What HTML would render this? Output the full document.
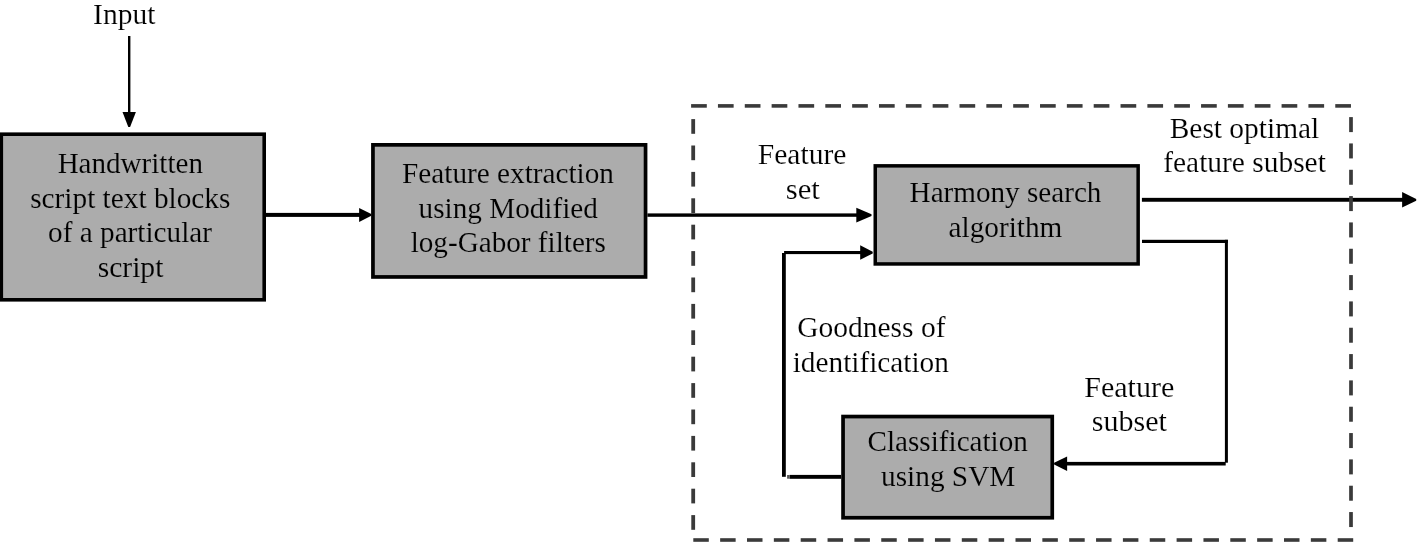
<!DOCTYPE html>
<html><head><meta charset="utf-8"><title>Diagram</title>
<style>
html,body{margin:0;padding:0;background:#fff;}
body{width:1418px;height:542px;overflow:hidden;}
svg{display:block;will-change:transform;font-family:"Liberation Serif",serif;}
text{fill:#000;}
</style></head><body>
<svg width="1418" height="542" viewBox="0 0 1418 542">
<rect x="0" y="0" width="1418" height="542" fill="#fff"/>
<rect x="1.3" y="134.2" width="262.9" height="165.6" fill="#acacac" stroke="#000" stroke-width="3.6"/>
<rect x="372.95" y="144.85" width="272.6" height="132.1" fill="#acacac" stroke="#000" stroke-width="3.7"/>
<rect x="875.25" y="165.85" width="262.9" height="98.1" fill="#acacac" stroke="#000" stroke-width="3.5"/>
<rect x="843.05" y="416.55" width="209.2" height="101.2" fill="#acacac" stroke="#000" stroke-width="3.7"/>
<rect x="266" y="212.9" width="96" height="4"/>
<rect x="647.4" y="213.4" width="210.6" height="3.4"/>
<rect x="1141.9" y="197.85" width="262.1" height="3.9"/>
<rect x="1142" y="239.8" width="85.9" height="3.2"/>
<rect x="1064" y="461.9" width="161.7" height="3.6"/>
<rect x="789.5" y="474.9" width="51.7" height="3.9"/>
<rect x="784.1" y="251" width="77.9" height="3.1"/>
<rect x="787.1" y="475" width="2.4" height="3.7" fill="#555"/>
<rect x="128" y="36" width="2.4" height="79"/>
<rect x="1224.9" y="239.8" width="3" height="222.9"/>
<rect x="782" y="253" width="3.8" height="223.8"/>
<polygon points="128.3,126.9 130.1,126.9 135.9,112 122.5,112"/>
<polygon points="371.3,214 371.3,215.8 359.1,221.9 359.1,207.9"/>
<polygon points="871.5,214.2 871.5,216 856.3,222.4 856.3,207.8"/>
<polygon points="1416.2,198.9 1416.2,200.7 1402.1,207.5 1402.1,192.1"/>
<polygon points="1054.1,462.8 1054.1,464.6 1067.1,470.9 1067.1,456.5"/>
<polygon points="872.7,251.65 872.7,253.45 860.2,259.75 860.2,245.35"/>
<rect x="691.1" y="104.1" width="15.7" height="3.6" fill="#3a3a3a"/>
<rect x="717.94" y="104.1" width="15.7" height="3.6" fill="#3a3a3a"/>
<rect x="744.78" y="104.1" width="15.7" height="3.6" fill="#3a3a3a"/>
<rect x="771.62" y="104.1" width="15.7" height="3.6" fill="#3a3a3a"/>
<rect x="798.46" y="104.1" width="15.7" height="3.6" fill="#3a3a3a"/>
<rect x="825.3" y="104.1" width="15.7" height="3.6" fill="#3a3a3a"/>
<rect x="852.14" y="104.1" width="15.7" height="3.6" fill="#3a3a3a"/>
<rect x="878.98" y="104.1" width="15.7" height="3.6" fill="#3a3a3a"/>
<rect x="905.82" y="104.1" width="15.7" height="3.6" fill="#3a3a3a"/>
<rect x="932.66" y="104.1" width="15.7" height="3.6" fill="#3a3a3a"/>
<rect x="959.5" y="104.1" width="15.7" height="3.6" fill="#3a3a3a"/>
<rect x="986.34" y="104.1" width="15.7" height="3.6" fill="#3a3a3a"/>
<rect x="1013.18" y="104.1" width="15.7" height="3.6" fill="#3a3a3a"/>
<rect x="1040.02" y="104.1" width="15.7" height="3.6" fill="#3a3a3a"/>
<rect x="1066.86" y="104.1" width="15.7" height="3.6" fill="#3a3a3a"/>
<rect x="1093.7" y="104.1" width="15.7" height="3.6" fill="#3a3a3a"/>
<rect x="1120.54" y="104.1" width="15.7" height="3.6" fill="#3a3a3a"/>
<rect x="1147.38" y="104.1" width="15.7" height="3.6" fill="#3a3a3a"/>
<rect x="1174.22" y="104.1" width="15.7" height="3.6" fill="#3a3a3a"/>
<rect x="1201.06" y="104.1" width="15.7" height="3.6" fill="#3a3a3a"/>
<rect x="1227.9" y="104.1" width="15.7" height="3.6" fill="#3a3a3a"/>
<rect x="1254.74" y="104.1" width="15.7" height="3.6" fill="#3a3a3a"/>
<rect x="1281.58" y="104.1" width="15.7" height="3.6" fill="#3a3a3a"/>
<rect x="1308.42" y="104.1" width="15.7" height="3.6" fill="#3a3a3a"/>
<rect x="1335.26" y="104.1" width="15.7" height="3.6" fill="#3a3a3a"/>
<rect x="693.3" y="538.2" width="15.5" height="3.6" fill="#3a3a3a"/>
<rect x="720.15" y="538.2" width="15.5" height="3.6" fill="#3a3a3a"/>
<rect x="747" y="538.2" width="15.5" height="3.6" fill="#3a3a3a"/>
<rect x="773.85" y="538.2" width="15.5" height="3.6" fill="#3a3a3a"/>
<rect x="800.7" y="538.2" width="15.5" height="3.6" fill="#3a3a3a"/>
<rect x="827.55" y="538.2" width="15.5" height="3.6" fill="#3a3a3a"/>
<rect x="854.4" y="538.2" width="15.5" height="3.6" fill="#3a3a3a"/>
<rect x="881.25" y="538.2" width="15.5" height="3.6" fill="#3a3a3a"/>
<rect x="908.1" y="538.2" width="15.5" height="3.6" fill="#3a3a3a"/>
<rect x="934.95" y="538.2" width="15.5" height="3.6" fill="#3a3a3a"/>
<rect x="961.8" y="538.2" width="15.5" height="3.6" fill="#3a3a3a"/>
<rect x="988.65" y="538.2" width="15.5" height="3.6" fill="#3a3a3a"/>
<rect x="1015.5" y="538.2" width="15.5" height="3.6" fill="#3a3a3a"/>
<rect x="1042.35" y="538.2" width="15.5" height="3.6" fill="#3a3a3a"/>
<rect x="1069.2" y="538.2" width="15.5" height="3.6" fill="#3a3a3a"/>
<rect x="1096.05" y="538.2" width="15.5" height="3.6" fill="#3a3a3a"/>
<rect x="1122.9" y="538.2" width="15.5" height="3.6" fill="#3a3a3a"/>
<rect x="1149.75" y="538.2" width="15.5" height="3.6" fill="#3a3a3a"/>
<rect x="1176.6" y="538.2" width="15.5" height="3.6" fill="#3a3a3a"/>
<rect x="1203.45" y="538.2" width="15.5" height="3.6" fill="#3a3a3a"/>
<rect x="1230.3" y="538.2" width="15.5" height="3.6" fill="#3a3a3a"/>
<rect x="1257.15" y="538.2" width="15.5" height="3.6" fill="#3a3a3a"/>
<rect x="1284" y="538.2" width="15.5" height="3.6" fill="#3a3a3a"/>
<rect x="1310.85" y="538.2" width="15.5" height="3.6" fill="#3a3a3a"/>
<rect x="1337.7" y="538.2" width="15.5" height="3.6" fill="#3a3a3a"/>
<rect x="691.3" y="119.1" width="3.8" height="14.7" fill="#3a3a3a"/>
<rect x="691.3" y="145.5" width="3.8" height="14.7" fill="#3a3a3a"/>
<rect x="691.3" y="171.9" width="3.8" height="14.7" fill="#3a3a3a"/>
<rect x="691.3" y="198.3" width="3.8" height="14.7" fill="#3a3a3a"/>
<rect x="691.3" y="224.7" width="3.8" height="14.7" fill="#3a3a3a"/>
<rect x="691.3" y="251.1" width="3.8" height="14.7" fill="#3a3a3a"/>
<rect x="691.3" y="277.5" width="3.8" height="14.7" fill="#3a3a3a"/>
<rect x="691.3" y="303.9" width="3.8" height="14.7" fill="#3a3a3a"/>
<rect x="691.3" y="330.3" width="3.8" height="14.7" fill="#3a3a3a"/>
<rect x="691.3" y="356.7" width="3.8" height="14.7" fill="#3a3a3a"/>
<rect x="691.3" y="383.1" width="3.8" height="14.7" fill="#3a3a3a"/>
<rect x="691.3" y="409.5" width="3.8" height="14.7" fill="#3a3a3a"/>
<rect x="691.3" y="435.9" width="3.8" height="14.7" fill="#3a3a3a"/>
<rect x="691.3" y="462.3" width="3.8" height="14.7" fill="#3a3a3a"/>
<rect x="691.3" y="488.7" width="3.8" height="14.7" fill="#3a3a3a"/>
<rect x="691.3" y="515.1" width="3.8" height="14.7" fill="#3a3a3a"/>
<rect x="1349.15" y="117.1" width="3.7" height="15" fill="#3a3a3a"/>
<rect x="1349.15" y="143.43" width="3.7" height="15" fill="#3a3a3a"/>
<rect x="1349.15" y="169.76" width="3.7" height="15" fill="#3a3a3a"/>
<rect x="1349.15" y="196.09" width="3.7" height="15" fill="#3a3a3a"/>
<rect x="1349.15" y="222.42" width="3.7" height="15" fill="#3a3a3a"/>
<rect x="1349.15" y="248.75" width="3.7" height="15" fill="#3a3a3a"/>
<rect x="1349.15" y="275.08" width="3.7" height="15" fill="#3a3a3a"/>
<rect x="1349.15" y="301.41" width="3.7" height="15" fill="#3a3a3a"/>
<rect x="1349.15" y="327.74" width="3.7" height="15" fill="#3a3a3a"/>
<rect x="1349.15" y="354.07" width="3.7" height="15" fill="#3a3a3a"/>
<rect x="1349.15" y="380.4" width="3.7" height="15" fill="#3a3a3a"/>
<rect x="1349.15" y="406.73" width="3.7" height="15" fill="#3a3a3a"/>
<rect x="1349.15" y="433.06" width="3.7" height="15" fill="#3a3a3a"/>
<rect x="1349.15" y="459.39" width="3.7" height="15" fill="#3a3a3a"/>
<rect x="1349.15" y="485.72" width="3.7" height="15" fill="#3a3a3a"/>
<rect x="1349.15" y="512.05" width="3.7" height="15" fill="#3a3a3a"/>
<text x="124.26" y="23.8" text-anchor="middle" font-size="30" textLength="62.28" lengthAdjust="spacingAndGlyphs" stroke="#fff" stroke-width="0.15">Input</text>
<text x="130.31" y="172.7" text-anchor="middle" font-size="30" textLength="145.34" lengthAdjust="spacingAndGlyphs" stroke="#acacac" stroke-width="0.15">Handwritten</text>
<text x="130.3" y="207.8" text-anchor="middle" font-size="30" textLength="200.24" lengthAdjust="spacingAndGlyphs" stroke="#acacac" stroke-width="0.15">script text blocks</text>
<text x="130.04" y="242.4" text-anchor="middle" font-size="30" textLength="163.88" lengthAdjust="spacingAndGlyphs" stroke="#acacac" stroke-width="0.15">of a particular</text>
<text x="130.52" y="277" text-anchor="middle" font-size="30" textLength="65.76" lengthAdjust="spacingAndGlyphs" stroke="#acacac" stroke-width="0.15">script</text>
<text x="508" y="182.8" text-anchor="middle" font-size="30" textLength="211.84" lengthAdjust="spacingAndGlyphs" stroke="#acacac" stroke-width="0.15">Feature extraction</text>
<text x="508.25" y="217.5" text-anchor="middle" font-size="30" textLength="179.26" lengthAdjust="spacingAndGlyphs" stroke="#acacac" stroke-width="0.15">using Modified</text>
<text x="508.29" y="252.3" text-anchor="middle" font-size="30" textLength="195.3" lengthAdjust="spacingAndGlyphs" stroke="#acacac" stroke-width="0.15">log-Gabor filters</text>
<text x="802.07" y="163.7" text-anchor="middle" font-size="30" textLength="88.66" lengthAdjust="spacingAndGlyphs" stroke="#fff" stroke-width="0.15">Feature</text>
<text x="802.78" y="198.6" text-anchor="middle" font-size="30" textLength="34.12" lengthAdjust="spacingAndGlyphs" stroke="#fff" stroke-width="0.15">set</text>
<text x="1005.51" y="201.6" text-anchor="middle" font-size="30" textLength="191.86" lengthAdjust="spacingAndGlyphs" stroke="#acacac" stroke-width="0.15">Harmony search</text>
<text x="1005.49" y="236.5" text-anchor="middle" font-size="30" textLength="113.74" lengthAdjust="spacingAndGlyphs" stroke="#acacac" stroke-width="0.15">algorithm</text>
<text x="1244.5" y="137.7" text-anchor="middle" font-size="30" textLength="149.6" lengthAdjust="spacingAndGlyphs" stroke="#fff" stroke-width="0.15">Best optimal</text>
<text x="1244.54" y="172.3" text-anchor="middle" font-size="30" textLength="162.64" lengthAdjust="spacingAndGlyphs" stroke="#fff" stroke-width="0.15">feature subset</text>
<text x="871.32" y="337.3" text-anchor="middle" font-size="30" textLength="148.32" lengthAdjust="spacingAndGlyphs" stroke="#fff" stroke-width="0.15">Goodness of</text>
<text x="870.83" y="372.3" text-anchor="middle" font-size="30" textLength="156.18" lengthAdjust="spacingAndGlyphs" stroke="#fff" stroke-width="0.15">identification</text>
<text x="1129.26" y="397.1" text-anchor="middle" font-size="30" textLength="90.1" lengthAdjust="spacingAndGlyphs" stroke="#fff" stroke-width="0.15">Feature</text>
<text x="1129.3" y="431.3" text-anchor="middle" font-size="30" textLength="75.12" lengthAdjust="spacingAndGlyphs" stroke="#fff" stroke-width="0.15">subset</text>
<text x="947.72" y="451" text-anchor="middle" font-size="30" textLength="160.32" lengthAdjust="spacingAndGlyphs" stroke="#acacac" stroke-width="0.15">Classification</text>
<text x="948.21" y="485.7" text-anchor="middle" font-size="30" textLength="134.34" lengthAdjust="spacingAndGlyphs" stroke="#acacac" stroke-width="0.15">using SVM</text>
</svg>
</body></html>
